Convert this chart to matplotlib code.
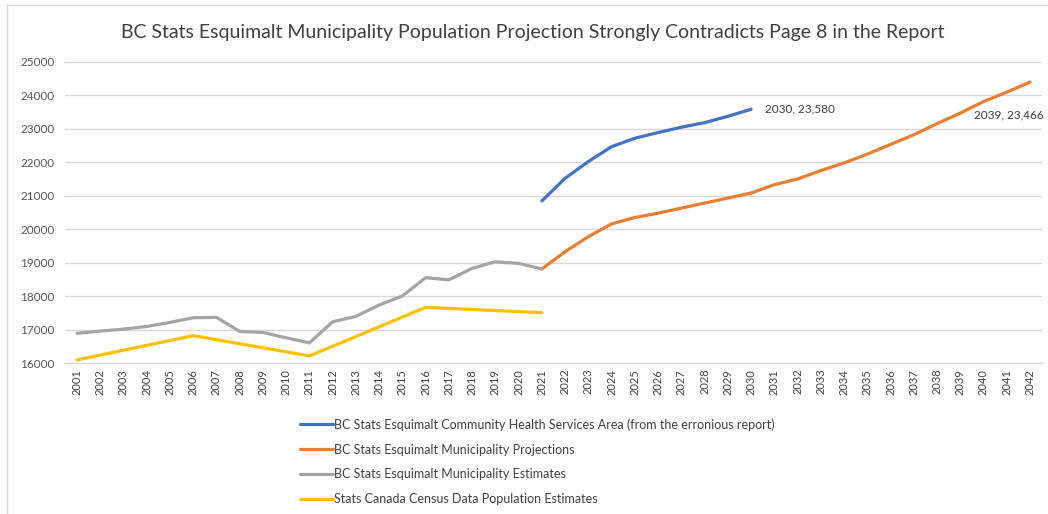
import matplotlib
matplotlib.use("Agg")
import matplotlib.pyplot as plt
import numpy as np

plt.rcParams['font.family'] = ['Lato', 'DejaVu Sans']

years = list(range(2001, 2043))
year_labels = [str(y) for y in years]

est_years = list(range(2001, 2022))
est_values = [16895, 16960, 17020, 17100, 17220, 17360, 17370, 16950, 16920, 16760,
              16610, 17240, 17400, 17740, 18010, 18555, 18490, 18835, 19030, 18980, 18815]

census_years = [2001, 2006, 2011, 2016, 2021]
census_values = [16100, 16825, 16220, 17670, 17510]

chsa_years = list(range(2021, 2031))
chsa_values = [20845, 21520, 22020, 22465, 22715, 22885, 23045, 23180, 23370, 23580]

proj_years = list(range(2021, 2043))
proj_values = [18815, 19330, 19780, 20160, 20350, 20480, 20630, 20780, 20930, 21080,
               21330, 21500, 21750, 21980, 22240, 22530, 22820, 23150, 23466, 23810,
               24090, 24390]

series_names = [
    "BC Stats Esquimalt Community Health Services Area (from the erronious report)",
    "BC Stats Esquimalt Municipality Projections",
    "BC Stats Esquimalt Municipality Estimates",
    "Stats Canada Census Data Population Estimates",
]
colors = ["#4472C4", "#ED7D31", "#A5A5A5", "#FFC000"]
title = "BC Stats Esquimalt Municipality Population Projection Strongly Contradicts Page 8 in the Report"

fig = plt.figure(figsize=(10.48, 5.14), dpi=100)

# chart-area border (left and top edges visible)
fig.add_artist(plt.Line2D([7 / 1048, 7 / 1048], [0, 1 - 5 / 514], transform=fig.transFigure,
                          color="#D9D9D9", lw=1))
fig.add_artist(plt.Line2D([7 / 1048, 1], [1 - 5 / 514, 1 - 5 / 514], transform=fig.transFigure,
                          color="#D9D9D9", lw=1))

ax = fig.add_axes([0.0624, 0.2932, 0.9315, 0.5868])

lw = 2.3
ax.plot(chsa_years, chsa_values, color=colors[0], lw=lw, label=series_names[0], solid_capstyle='round')
ax.plot(proj_years, proj_values, color=colors[1], lw=lw, label=series_names[1], solid_capstyle='round')
ax.plot(est_years, est_values, color=colors[2], lw=lw, label=series_names[2], solid_capstyle='round')
ax.plot(census_years, census_values, color=colors[3], lw=lw, label=series_names[3], solid_capstyle='round')

ax.set_xlim(2000.5, 2042.5)
ax.set_ylim(16000, 25000)
ax.set_yticks(np.arange(16000, 25001, 1000))
ax.set_xticks(years)
ax.set_xticklabels(year_labels, rotation=90, fontsize=8, color="#404040")
ax.tick_params(axis='y', labelsize=8.5, colors="#595959", length=0, pad=8)
ax.tick_params(axis='x', length=0, pad=4)
ax.grid(axis='y', color="#D9D9D9", lw=1)
ax.set_axisbelow(True)
for s in ['top', 'right', 'left']:
    ax.spines[s].set_visible(False)
ax.spines['bottom'].set_color("#D9D9D9")

ax.annotate(f"{chsa_years[-1]}, {chsa_values[-1]:,}", xy=(chsa_years[-1], chsa_values[-1]),
            xytext=(10, 0), textcoords='offset points', fontsize=8.5, color="#404040",
            va='center', ha='left')
i39 = proj_years.index(2039)
ax.annotate(f"{proj_years[i39]}, {proj_values[i39]:,}", xy=(proj_years[i39], proj_values[i39]),
            xytext=(10, -1.5), textcoords='offset points', fontsize=8.5, color="#404040",
            va='center', ha='left')

fig.text(0.5086, 0.937, title, ha='center', va='center', fontsize=14, color="#404040")

leg = fig.legend(loc='upper left', bbox_to_anchor=(289 / 1048, 1 - 407 / 514), frameon=False,
                 fontsize=9, labelspacing=1.02, handlelength=2.6, handletextpad=0.1,
                 labelcolor="#404040")

fig.savefig("out.png", dpi=100, facecolor="white")
